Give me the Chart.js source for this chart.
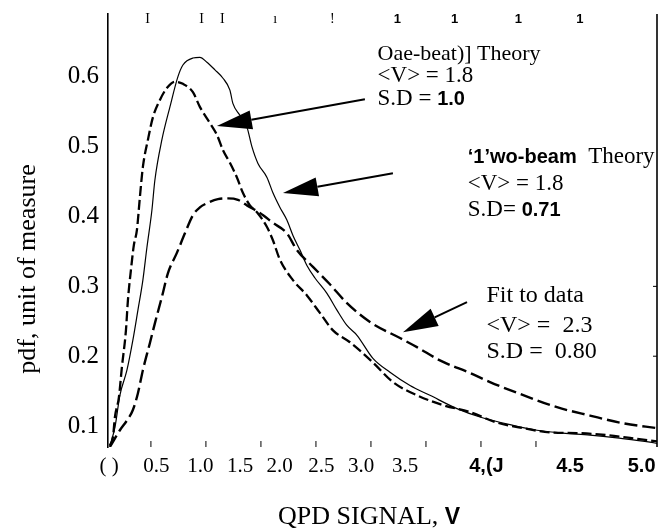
<!DOCTYPE html>
<html>
<head>
<meta charset="utf-8">
<script src="https://cdn.jsdelivr.net/npm/chart.js@4.4.1/dist/chart.umd.min.js"></script>
<style>
  body { margin: 0; background: #fff; }
  canvas { display: block; }
</style>
</head>
<body>
<canvas id="c" width="660" height="530"></canvas>
<script>
// curves (x = QPD signal, y = pdf)
const twoBeamX = [0.127, 0.173, 0.218, 0.282, 0.336, 0.382, 0.427, 0.464, 0.509, 0.536, 0.6, 0.673, 0.745, 0.791, 0.882, 0.945, 1.009, 1.082, 1.155, 1.218, 1.245, 1.309, 1.373, 1.418, 1.473, 1.555, 1.609, 1.673, 1.736, 1.791, 1.855, 1.918, 1.991, 2.1, 2.191, 2.282, 2.373, 2.518, 2.673, 2.855, 3.036, 3.282, 3.491, 3.791, 4.009, 4.245, 4.491, 4.736, 5.036, 5.1];
const twoBeamY = [0.072, 0.098, 0.144, 0.18, 0.223, 0.266, 0.309, 0.356, 0.409, 0.452, 0.51, 0.557, 0.6, 0.617, 0.627, 0.628, 0.621, 0.61, 0.598, 0.581, 0.562, 0.545, 0.528, 0.5, 0.476, 0.456, 0.434, 0.413, 0.395, 0.373, 0.352, 0.33, 0.312, 0.29, 0.266, 0.244, 0.23, 0.197, 0.177, 0.158, 0.144, 0.125, 0.113, 0.101, 0.094, 0.09, 0.087, 0.083, 0.077, 0.075];

const oneBeamX = [0.127, 0.155, 0.173, 0.209, 0.236, 0.273, 0.291, 0.318, 0.345, 0.373, 0.4, 0.427, 0.473, 0.518, 0.582, 0.645, 0.718, 0.791, 0.882, 0.945, 1.036, 1.1, 1.155, 1.218, 1.282, 1.336, 1.4, 1.464, 1.555, 1.609, 1.673, 1.791, 1.918, 2.036, 2.155, 2.309, 2.518, 2.7, 2.918, 3.155, 3.4, 3.645, 3.882, 4.127, 4.373, 4.645, 4.855, 5.1];
const oneBeamY = [0.072, 0.084, 0.113, 0.141, 0.184, 0.237, 0.28, 0.323, 0.359, 0.381, 0.428, 0.471, 0.51, 0.542, 0.567, 0.584, 0.593, 0.59, 0.578, 0.557, 0.534, 0.517, 0.495, 0.477, 0.456, 0.434, 0.416, 0.406, 0.385, 0.366, 0.338, 0.309, 0.287, 0.262, 0.237, 0.22, 0.191, 0.163, 0.144, 0.13, 0.12, 0.105, 0.097, 0.091, 0.09, 0.087, 0.083, 0.078];

const fitX = [0.127, 0.218, 0.282, 0.336, 0.382, 0.427, 0.491, 0.536, 0.6, 0.655, 0.736, 0.809, 0.882, 0.945, 1.009, 1.109, 1.2, 1.291, 1.373, 1.491, 1.609, 1.736, 1.827, 1.973, 2.127, 2.282, 2.491, 2.764, 2.918, 3.127, 3.4, 3.582, 3.855, 4.191, 4.491, 4.791, 5.1];
const fitY = [0.07, 0.094, 0.108, 0.123, 0.147, 0.18, 0.219, 0.247, 0.285, 0.319, 0.348, 0.376, 0.402, 0.413, 0.419, 0.425, 0.426, 0.424, 0.416, 0.405, 0.391, 0.376, 0.352, 0.328, 0.303, 0.276, 0.249, 0.226, 0.213, 0.194, 0.176, 0.163, 0.146, 0.127, 0.115, 0.104, 0.097];

// tick labels as printed on the scan
const xTickLabels = ['( )', '0.5', '1.0', '1.5', '2.0', '2.5', '3.0', '3.5', '4,(J', '4.5', '5.0'];
const xTickAt = [0.12, 0.55, 0.95, 1.31, 1.67, 2.05, 2.41, 2.81, 3.55, 4.31, 4.96];
const xTickMarks = [0.5, 1.0, 1.5, 2.0, 2.5, 3.0, 3.5, 4.0];
const yTicks = [0.1, 0.2, 0.3, 0.4, 0.5, 0.6];
const topMarkAt = [0.47, 0.96, 1.15, 1.63, 2.15, 2.74, 3.26, 3.84, 4.4];
const topMarkText = ['I', 'I', 'I', 'ı', '!', '1', '1', '1', '1'];

const serif = "'Liberation Serif', 'Times New Roman', serif";
const sans = "'Liberation Sans', Arial, sans-serif";

function pts(xs, ys) {
    return xs.map((x, i) => ({ x: x, y: ys[i] }));
}

// notes next to the curves, anchored in data units
const notes = [
    { x: 2.56, y: 0.624, runs: [['Oae-beat)] Theory', '22px ' + serif]] },
    { x: 2.56, y: 0.593, runs: [['<V> = 1.8', '23px ' + serif]] },
    { x: 2.56, y: 0.560, runs: [['S.D = ', '23px ' + serif], ['1.0', 'bold 20px ' + sans]] },
    { x: 3.38, y: 0.477, runs: [['‘1’wo-beam', 'bold 20px ' + sans], ['  Theory', '23px ' + serif]] },
    { x: 3.38, y: 0.438, runs: [['<V> = 1.8', '23px ' + serif]] },
    { x: 3.38, y: 0.401, runs: [['S.D= ', '23px ' + serif], ['0.71', 'bold 20px ' + sans]] },
    { x: 3.55, y: 0.277, runs: [['Fit to data', '24px ' + serif]] },
    { x: 3.55, y: 0.234, runs: [['<V> =  2.3', '24px ' + serif]] },
    { x: 3.55, y: 0.197, runs: [['S.D =  0.80', '24px ' + serif]] }
];
const arrows = [
    { from: [2.445, 0.568], to: [1.10, 0.5295] },
    { from: [2.70, 0.462], to: [1.70, 0.4336] },
    { from: [3.373, 0.2774], to: [2.791, 0.2344] }
];

function drawRuns(ctx, x, y, runs) {
    ctx.textAlign = 'left';
    ctx.textBaseline = 'alphabetic';
    runs.forEach(r => {
        ctx.font = r[1];
        ctx.fillText(r[0], x, y);
        x += ctx.measureText(r[0]).width;
    });
}

function drawArrow(ctx, x1, y1, x2, y2) {
    let a = Math.atan2(y2 - y1, x2 - x1);
    let len = 35, half = 9.5;
    let bx = x2 - len * Math.cos(a), by = y2 - len * Math.sin(a);
    ctx.lineWidth = 2;
    ctx.beginPath();
    ctx.moveTo(x1, y1);
    ctx.lineTo(bx, by);
    ctx.stroke();
    ctx.beginPath();
    ctx.moveTo(x2, y2);
    ctx.lineTo(bx + half * Math.sin(a), by - half * Math.cos(a));
    ctx.lineTo(bx - half * Math.sin(a), by + half * Math.cos(a));
    ctx.closePath();
    ctx.fill();
}

const overlay = {
    id: 'overlay',
    afterDraw(chart) {
        const ctx = chart.ctx;
        const xs = chart.scales.x, ys = chart.scales.y, area = chart.chartArea;
        ctx.save();
        ctx.strokeStyle = '#000';
        ctx.fillStyle = '#000';

        //right frame line and its little ticks
        ctx.lineWidth = 1.6;
        ctx.beginPath();
        ctx.moveTo(area.right, area.top);
        ctx.lineTo(area.right, area.bottom);
        ctx.stroke();
        ctx.lineWidth = 1;
        [0.2, 0.3].forEach(v => {
            let py = ys.getPixelForValue(v);
            ctx.beginPath();
            ctx.moveTo(area.right - 4, py);
            ctx.lineTo(area.right, py);
            ctx.stroke();
        });

        //bottom tick marks
        xTickMarks.forEach(v => {
            let px = xs.getPixelForValue(v);
            ctx.beginPath();
            ctx.moveTo(px, area.bottom - 6);
            ctx.lineTo(px, area.bottom);
            ctx.stroke();
        });

        //marks along the top edge
        ctx.textAlign = 'center';
        ctx.textBaseline = 'alphabetic';
        topMarkAt.forEach((v, i) => {
            ctx.font = i < 5 ? '14px ' + serif : 'bold 13px ' + sans;
            ctx.fillText(topMarkText[i], xs.getPixelForValue(v), area.top + 9);
        });

        arrows.forEach(a => {
            drawArrow(ctx,
                xs.getPixelForValue(a.from[0]), ys.getPixelForValue(a.from[1]),
                xs.getPixelForValue(a.to[0]), ys.getPixelForValue(a.to[1]));
        });

        notes.forEach(n => {
            drawRuns(ctx, xs.getPixelForValue(n.x), ys.getPixelForValue(n.y), n.runs);
        });

        //axis titles
        drawRuns(ctx, area.left + 170, area.bottom + 77, [['QPD SIGNAL, ', '26px ' + serif], ['V', 'bold 23px ' + sans]]);
        ctx.translate(area.left - 80, area.top + 255);
        ctx.rotate(-Math.PI / 2);
        ctx.textAlign = 'center';
        ctx.textBaseline = 'middle';
        ctx.font = '26px ' + serif;
        ctx.fillText('pdf, unit of measure', 0, 0);
        ctx.restore();
    }
};

const ctx = document.getElementById('c');

new Chart(ctx, {
    type: 'line',
    data: {
        datasets: [
            {
                label: 'Two-beam Theory',
                data: pts(twoBeamX, twoBeamY),
                borderColor: '#000',
                borderWidth: 1.2,
                pointRadius: 0,
                cubicInterpolationMode: 'monotone'
            },
            {
                label: 'One-beam Theory',
                data: pts(oneBeamX, oneBeamY),
                borderColor: '#000',
                borderWidth: 2.3,
                borderDash: [10, 4],
                pointRadius: 0,
                cubicInterpolationMode: 'monotone'
            },
            {
                label: 'Fit to data',
                data: pts(fitX, fitY),
                borderColor: '#000',
                borderWidth: 2.4,
                borderDash: [13, 5],
                pointRadius: 0,
                cubicInterpolationMode: 'monotone'
            }
        ]
    },
    options: {
        responsive: false,
        animation: false,
        layout: { padding: { top: 14, right: 3, left: 0, bottom: 0 } },
        plugins: {
            legend: { display: false },
            tooltip: { enabled: false }
        },
        scales: {
            x: {
                type: 'linear',
                min: 0.11,
                max: 5.1,
                grid: { display: false, drawTicks: false },
                border: { display: false },
                afterFit: s => {
                    s.height = 83;
                    s.paddingLeft = 0;
                    s.paddingRight = 0;
                },
                afterBuildTicks: s => { s.ticks = xTickAt.map(v => ({ value: v })); },
                ticks: {
                    autoSkip: false,
                    maxRotation: 0,
                    padding: 7,
                    color: '#000',
                    callback: (v, i) => xTickLabels[i],
                    font: c => c.index >= 8
                        ? { family: sans, size: 20, weight: 'bold' }
                        : { family: serif, size: 21 }
                }
            },
            y: {
                min: 0.07,
                max: 0.69,
                grid: { display: false, drawTicks: false },
                border: { display: true, color: '#000', width: 1.6 },
                afterFit: s => {
                    s.width = 108;
                    s.paddingTop = 0;
                    s.paddingBottom = 0;
                },
                afterBuildTicks: s => { s.ticks = yTicks.map(v => ({ value: v })); },
                ticks: {
                    padding: 9,
                    color: '#000',
                    font: { family: serif, size: 25 },
                    callback: v => v.toFixed(1)
                }
            }
        }
    },
    plugins: [overlay]
});
</script>
</body>
</html>
